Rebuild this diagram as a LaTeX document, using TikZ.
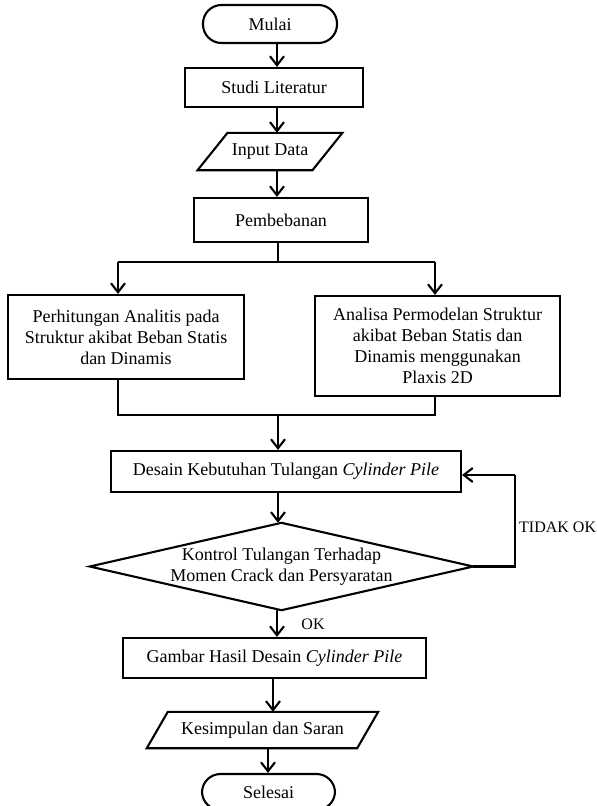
\documentclass[tikz,border=0pt]{standalone}
\usepackage{fontspec}
\setmainfont{Liberation Serif}
\usetikzlibrary{arrows.meta}
\begin{document}
\begin{tikzpicture}[x=1pt,y=-1pt,
  txt/.style={font=\fontsize{18}{21}\selectfont, align=center, inner sep=0pt},
  box/.style={txt, draw, line width=2.1pt},
  term/.style={txt, draw, line width=2.1pt, rounded corners=18.5pt},
  ghost/.style={txt},
  shapeline/.style={line width=2.1pt, line join=miter},
  lbl/.style={font=\fontsize{16}{19}\selectfont, inner sep=0pt},
  conn/.style={line width=2.1pt},
  arr/.style={line width=2.1pt, -{Straight Barb[length=9pt,width=14pt,line width=2.1pt]}}]
\clip (0,0) rectangle (597,806);
\fill[white] (0,0) rectangle (597,806);
\useasboundingbox (0,0) rectangle (597,806);

% nodes
\node[term, minimum width=134pt, minimum height=38pt] (mulai) at (270,24) {Mulai};
\node[box, minimum width=178pt, minimum height=39pt] (studi) at (274,87.5) {Studi Literatur};
\node[ghost, minimum width=114.5pt, minimum height=37pt] (input) at (270,151.5) {Input Data};
\draw[shapeline] ([xshift=15pt]input.north west) -- ([xshift=15pt]input.north east)
  -- ([xshift=-15pt]input.south east) -- ([xshift=-15pt]input.south west) -- cycle;
\node[box, minimum width=174pt, minimum height=44pt] (pemb) at (281,220) {Pembebanan};
\node[box, minimum width=236pt, minimum height=84pt] (kiri) at (126,337)
  {Perhitungan Analitis pada\\Struktur akibat Beban Statis\\dan Dinamis};
\node[box, minimum width=245pt, minimum height=100pt] (kanan) at (437.5,346)
  {Analisa Permodelan Struktur\\akibat Beban Statis dan\\Dinamis menggunakan\\Plaxis 2D};
\node[box, minimum width=350pt, minimum height=41pt] (desain) at (286,471.5)
  {Desain Kebutuhan Tulangan \textit{Cylinder Pile}};
\node[ghost, minimum width=383pt, minimum height=87pt] (kontrol) at (281.5,566.5)
  {Kontrol Tulangan Terhadap\\Momen Crack dan Persyaratan};
\draw[shapeline] (kontrol.north) -- (kontrol.east) -- (kontrol.south) -- (kontrol.west) -- cycle;
\node[box, minimum width=303pt, minimum height=40pt] (gambar) at (274.5,658)
  {Gambar Hasil Desain \textit{Cylinder Pile}};
\node[ghost, minimum width=210pt, minimum height=36pt] (kesim) at (262.5,730) {Kesimpulan dan Saran};
\draw[shapeline] ([xshift=10.5pt]kesim.north west) -- ([xshift=10.5pt]kesim.north east)
  -- ([xshift=-10.5pt]kesim.south east) -- ([xshift=-10.5pt]kesim.south west) -- cycle;
\node[term, minimum width=133pt, minimum height=36pt] (selesai) at (268.5,792) {Selesai};

\node[lbl, anchor=west] (tidak) at (519,527) {TIDAK OK};
\node[lbl] (ok) at (313,624) {OK};

% helper coordinates
\coordinate (ax) at (277,0);
\coordinate (split) at (278,262);
\coordinate (merge) at (278,415);
\coordinate (xl) at (118,0);
\coordinate (xr) at (435,0);
\coordinate (fb) at (515,475);

% connectors
\draw[arr] (mulai.south -| ax) -- (studi.north -| ax);
\draw[arr] (studi.south -| ax) -- (input.north -| ax);
\draw[arr] (input.south -| ax) -- (pemb.north -| ax);
\draw[conn] (pemb.south -| split) -- (split);
\draw[conn] (split -| xl) -- (split -| xr);
\draw[arr] (split -| xl) -- (kiri.north -| xl);
\draw[arr] (split -| xr) -- (kanan.north -| xr);
\draw[conn] (kiri.south -| xl) -- (merge -| xl) -- (merge -| xr) -- (kanan.south -| xr);
\draw[arr] (merge) -- (desain.north -| merge);
\draw[arr] ([xshift=1pt]desain.south -| ax) -- ([xshift=1pt]kontrol.north -| ax);
\draw[conn] (kontrol.east) -- (kontrol.east -| fb) -- (fb);
\draw[arr] (fb) -- (desain.east |- fb);
\draw[arr] (kontrol.south -| ax) -- (gambar.north -| ax);
\draw[arr] ([xshift=-4pt]gambar.south -| ax) -- ([xshift=-4pt]kesim.north -| ax);
\draw[arr] ([xshift=-9pt]kesim.south -| ax) -- ([xshift=-9pt]selesai.north -| ax);
\end{tikzpicture}
\end{document}
